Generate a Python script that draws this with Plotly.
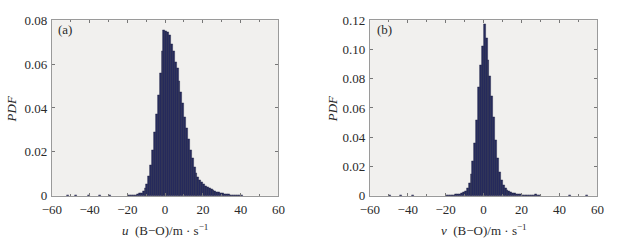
import plotly.graph_objects as go

# ---- data: bin left edges (m/s, bin width 1) and PDF values ----
u_left = list(range(-20, 41))
u_pdf = [0.0002, 0.0002, 0.0003, 0.0004, 0.0005, 0.0007, 0.001, 0.0014, 0.0022, 0.0035,
         0.0055, 0.009, 0.014, 0.021, 0.029, 0.037, 0.046, 0.056, 0.066, 0.0755,
         0.075, 0.0745, 0.073, 0.069, 0.066, 0.061, 0.058, 0.052, 0.047, 0.042,
         0.036, 0.031, 0.026, 0.021, 0.017, 0.013, 0.0105, 0.0085, 0.007, 0.006,
         0.0052, 0.0046, 0.004, 0.0035, 0.003, 0.0026, 0.0022, 0.0018, 0.0015, 0.0012,
         0.001, 0.0008, 0.0007, 0.0006, 0.0005, 0.0004, 0.0003, 0.0002, 0.0002, 0.0002,
         0.0001]
u_tail_left = [-52, -48, -41, -35, -30]
u_tail_pdf = [0.0002, 0.0001, 0.0002, 0.0001, 0.0002]

v_left = list(range(-20, 30))
v_pdf = [0.0003, 0.0003, 0.0004, 0.0005, 0.0006, 0.0008, 0.001, 0.0013, 0.0018, 0.0025,
         0.0035, 0.005, 0.0085, 0.015, 0.024, 0.036, 0.052, 0.074, 0.089, 0.102,
         0.117, 0.108, 0.093, 0.082, 0.068, 0.054, 0.038, 0.026, 0.016, 0.011,
         0.007, 0.005, 0.0037, 0.003, 0.0024, 0.002, 0.0015, 0.0012, 0.001, 0.0008,
         0.0006, 0.0005, 0.0004, 0.0003, 0.0003, 0.0003, 0.0003, 0.0012, 0.0006, 0.0002]
v_tail_left = [-50, -44, -38, 45, 54]
v_tail_pdf = [0.0002, 0.0002, 0.0002, 0.0002, 0.0003]

x_ticks = [-60, -40, -20, 0, 20, 40, 60]
x_ticktext = ["\u221260", "\u221240", "\u221220", "0", "20", "40", "60"]
u_yticks = [0, 0.02, 0.04, 0.06, 0.08]
u_yticktext = ["0", "0.02", "0.04", "0.06", "0.08"]
v_yticks = [0, 0.02, 0.04, 0.06, 0.08, 0.10, 0.12]
v_yticktext = ["0", "0.02", "0.04", "0.06", "0.08", "0.10", "0.12"]

BAR = "#272b5e"
EDGE = "#15173a"
BG = "#f1f0ee"
FRAME = "#9a9a9a"
FONT = "Liberation Serif"
TXT = "#2a2a2a"

fig = go.Figure()
fig.add_trace(go.Bar(x=[a + 0.5 for a in u_left + u_tail_left], y=u_pdf + u_tail_pdf, width=1,
                     marker=dict(color=BAR, line=dict(color=EDGE, width=0.4)),
                     xaxis="x", yaxis="y", showlegend=False))
fig.add_trace(go.Bar(x=[a + 0.5 for a in v_left + v_tail_left], y=v_pdf + v_tail_pdf, width=1,
                     marker=dict(color=BAR, line=dict(color=EDGE, width=0.4)),
                     xaxis="x2", yaxis="y2", showlegend=False))

W, H = 618, 247
ydom = [46 / H, 233 / H]

def xax(dom, anchor):
    return dict(domain=dom, anchor=anchor, range=[-60, 60], tickvals=x_ticks, ticktext=x_ticktext,
                ticks="inside", ticklen=3, tickcolor="#777", mirror="ticks", showline=True,
                linecolor=FRAME, linewidth=1, showgrid=False, zeroline=False,
                ticklabelstandoff=2,
                minor=dict(dtick=10, tick0=0, ticks="inside", ticklen=2, tickcolor="#777"),
                tickfont=dict(family=FONT, size=13, color=TXT))

def yax(dom, anchor, rng, tv, tt):
    return dict(domain=dom, anchor=anchor, range=rng, tickvals=tv, ticktext=tt,
                ticks="inside", ticklen=3, tickcolor="#777", mirror="ticks", showline=True,
                linecolor=FRAME, linewidth=1, showgrid=False, zeroline=False,
                ticklabelstandoff=1,
                tickfont=dict(family=FONT, size=13, color=TXT))

fig.update_layout(
    width=W, height=H, margin=dict(l=0, r=0, t=0, b=0),
    paper_bgcolor="white", plot_bgcolor=BG, bargap=0,
    xaxis=xax([43 / W, 276 / W], "y"),
    yaxis=yax(ydom, "x", [0, 0.08], u_yticks, u_yticktext),
    xaxis2=xax([370 / W, 604 / W], "y2"),
    yaxis2=yax(ydom, "x2", [0, 0.12], v_yticks, v_yticktext),
)

ann = [
    dict(text="(a)", x=47 / W, y=(H - 24) / H, xref="paper", yref="paper", xanchor="left",
         yanchor="middle", showarrow=False, font=dict(family=FONT, size=13, color=TXT)),
    dict(text="(b)", x=375 / W, y=(H - 24) / H, xref="paper", yref="paper", xanchor="left",
         yanchor="middle", showarrow=False, font=dict(family=FONT, size=13, color=TXT)),
    dict(text="<i>PDF</i>", x=1 / W, y=(H - 108) / H, xref="paper", yref="paper", textangle=-90,
         xanchor="center", yanchor="middle", showarrow=False, font=dict(family=FONT, size=13, color=TXT)),
    dict(text="<i>PDF</i>", x=332 / W, y=(H - 108) / H, xref="paper", yref="paper", textangle=-90,
         xanchor="center", yanchor="middle", showarrow=False, font=dict(family=FONT, size=13, color=TXT)),
    dict(text="<i>u</i>  (B\u2212O)/m \u00b7 s<sup>\u22121</sup>", x=(43 + 276) / 2 / W, y=(H - 237) / H,
         xref="paper", yref="paper", xanchor="center", yanchor="middle", showarrow=False,
         font=dict(family=FONT, size=13, color=TXT)),
    dict(text="<i>v</i>  (B\u2212O)/m \u00b7 s<sup>\u22121</sup>", x=(370 + 604) / 2 / W, y=(H - 237) / H,
         xref="paper", yref="paper", xanchor="center", yanchor="middle", showarrow=False,
         font=dict(family=FONT, size=13, color=TXT)),
]
fig.update_layout(annotations=ann)

fig.write_html("out.html")
